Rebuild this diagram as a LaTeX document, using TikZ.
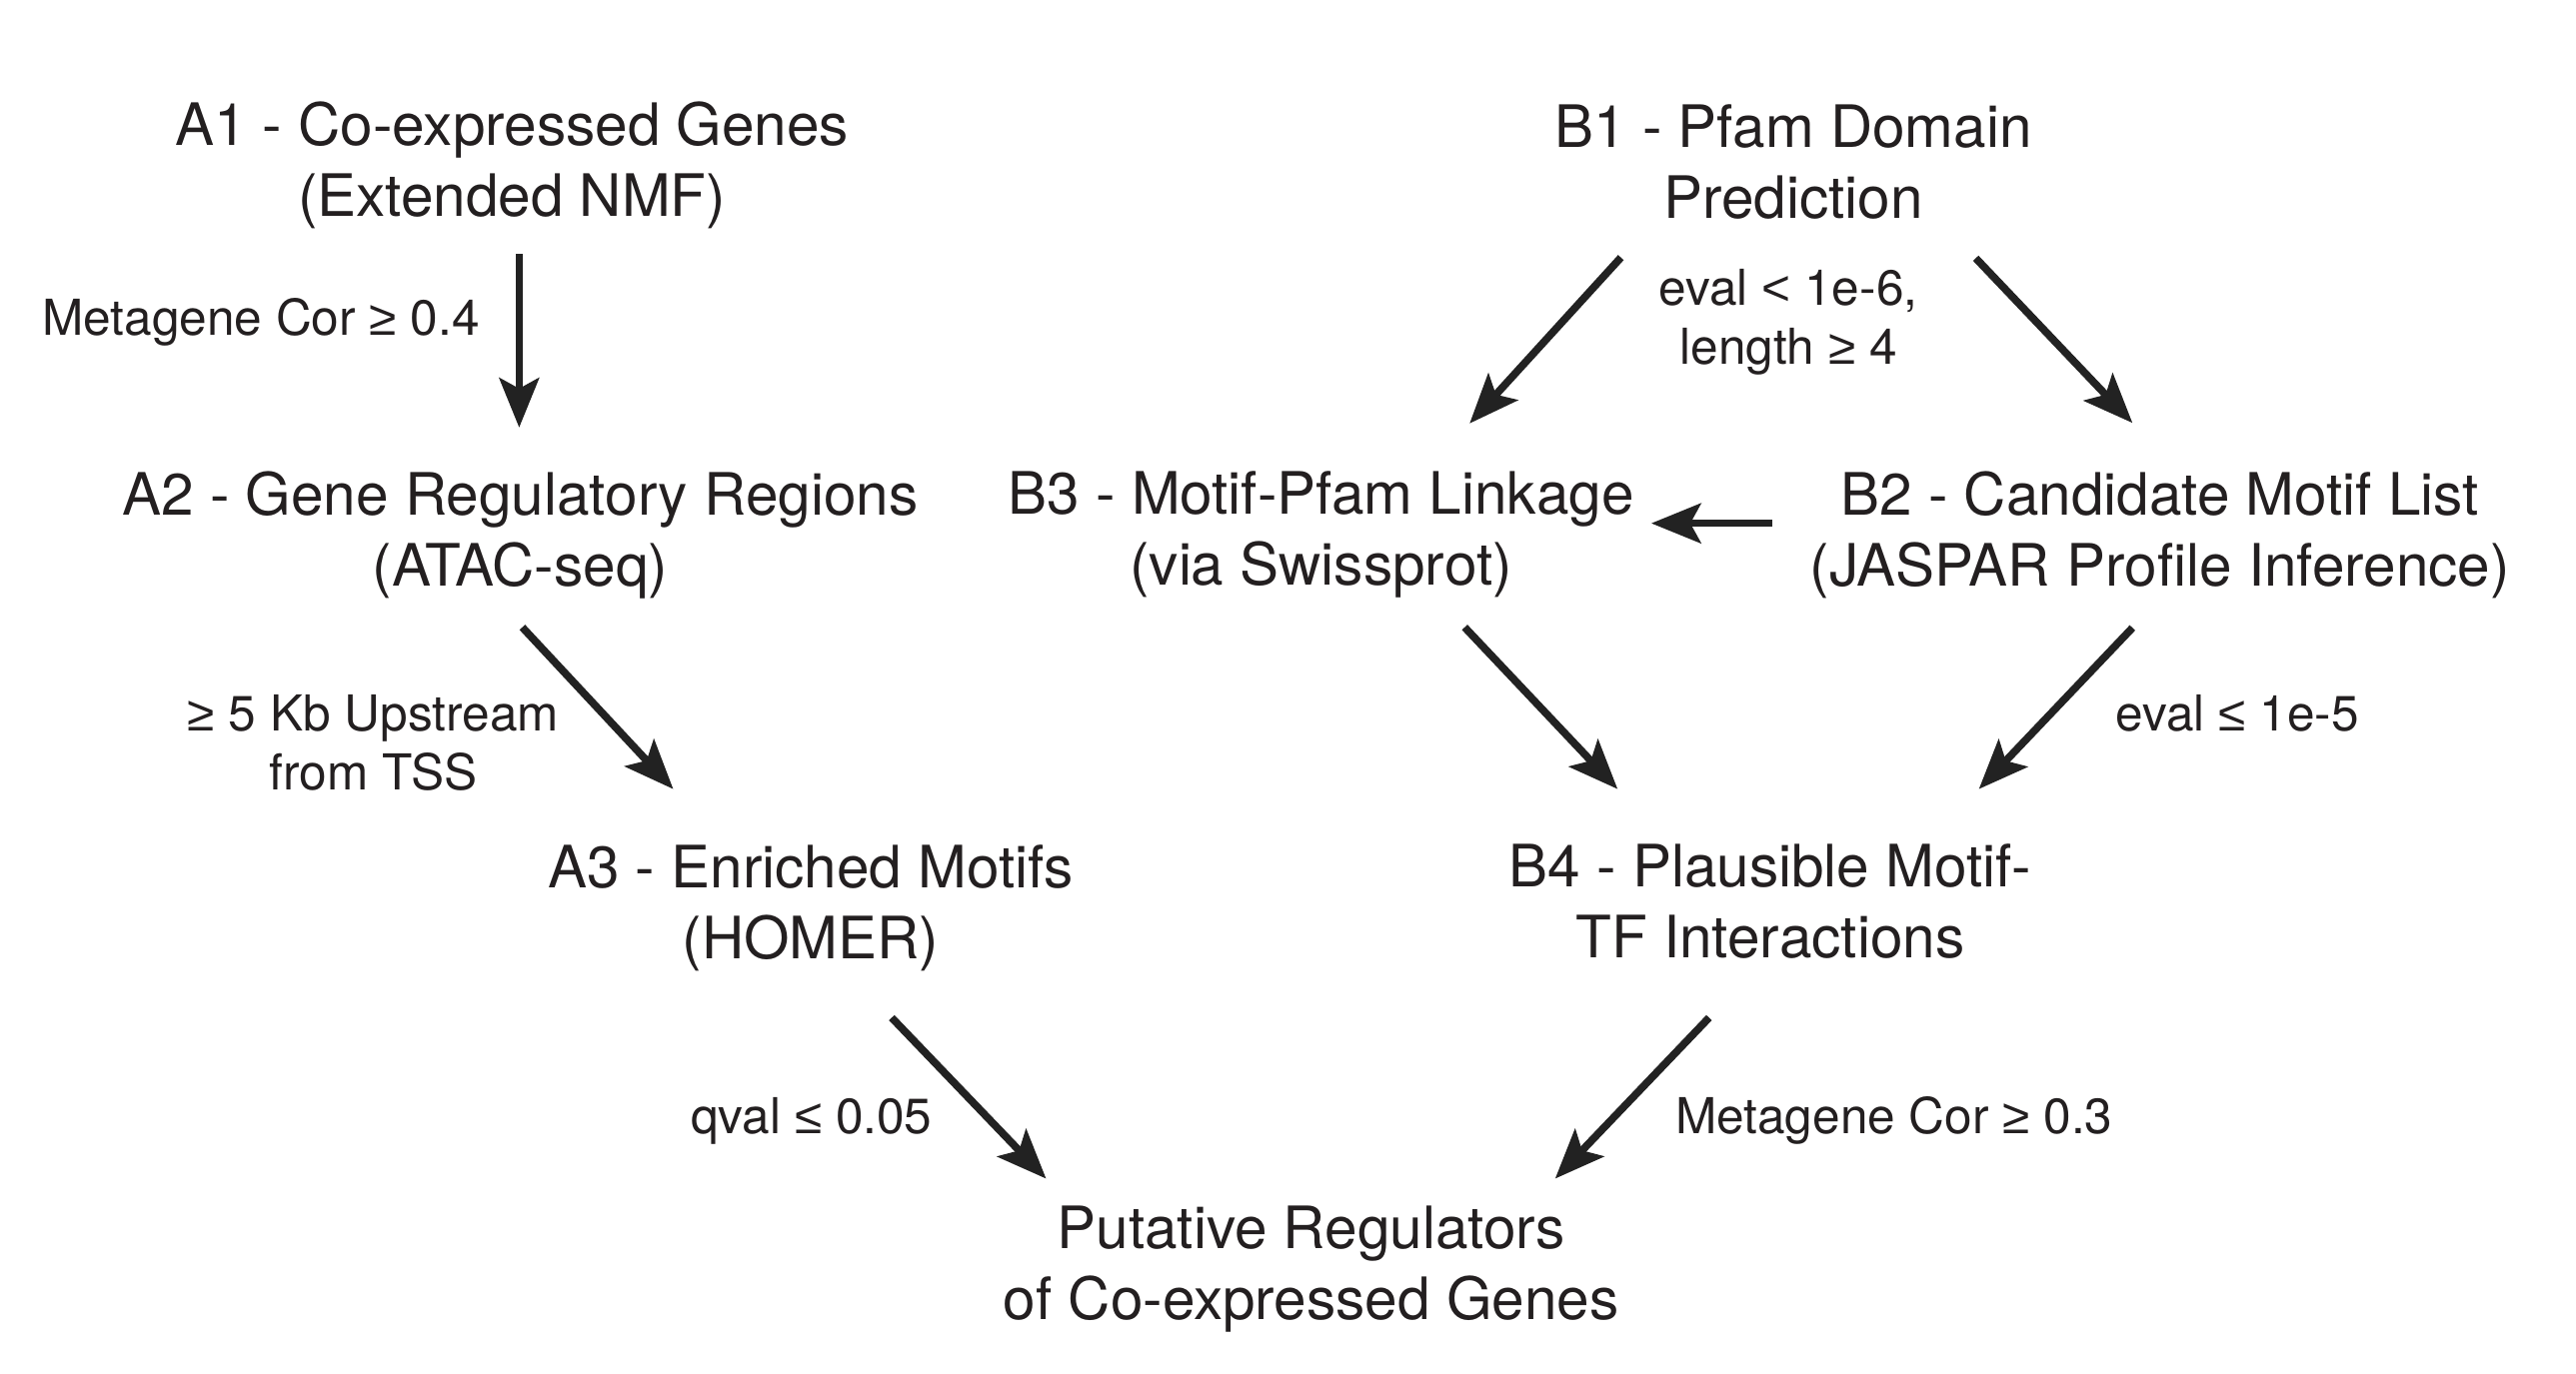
\documentclass[tikz,border=0pt]{standalone}
\usepackage{fontspec}
\setmainfont{TeX Gyre Heros}
\newfontfamily\relfont{Liberation Sans}
\usepackage[dvipsnames]{xcolor}
\definecolor{text_gray}{RGB}{35,31,32}
\definecolor{arrow_black}{RGB}{34,34,34}
\usepackage{tikz}
\usetikzlibrary{positioning, calc, arrows.meta}
\tikzstyle{stage} = [
    align=center, inner sep=0pt, text=text_gray,
    font=\fontsize{17.7}{21.5}\selectfont,
]
\tikzstyle{cond} = [
    align=center, inner sep=0pt, text=text_gray,
    font=\fontsize{15}{18}\selectfont,
]
\tikzstyle{arrow} = [line width=2.3pt, -{Stealth[length=15pt, width=12pt, inset=3.2pt]}, arrow_black]

\begin{document}
\begin{tikzpicture}[x=0.5pt, y=-0.5pt]
    \useasboundingbox (0,0) rectangle (1560,832);

    % pipeline A nodes
    \node[stage] (a1_coexpr) at (310,100) {A1 - Co-expressed Genes\\(Extended NMF)};
    \node[stage] (a2_regions) at (315,324) {A2 - Gene Regulatory Regions\\(ATAC-seq)};
    \node[stage] (a3_motifs) at (491,550) {A3 - Enriched Motifs\\(HOMER)};

    % pipeline B nodes
    \node[stage] (b1_pfam) at (1086,98) {B1 - Pfam Domain\\Prediction};
    \node[stage] (b2_candidates) at (1308,324) {B2 - Candidate Motif List\\(JASPAR Profile Inference)};
    \node[stage] (b3_linkage) at (800,324) {B3 - Motif-Pfam Linkage\\(via Swissprot)};
    \node[stage] (b4_interactions) at (1072,546) {B4 - Plausible Motif-\\TF Interactions};

    % result node
    \node[stage] (regulators) at (794,769) {Putative Regulators\\of Co-expressed Genes};

    % condition labels
    \node[cond] (cond_a12) at (158,195) {Metagene Cor {\relfont ≥} 0.4};
    \node[cond] (cond_a23) at (226,450) {{\relfont ≥} 5 Kb Upstream\\from TSS};
    \node[cond] (cond_a3r) at (491.5,679) {qval {\relfont ≤} 0.05};
    \node[cond] (cond_b1) at (1083,195) {eval {\relfont <} 1e-6,\\length {\relfont ≥} 4};
    \node[cond] (cond_b24) at (1355,432) {eval {\relfont ≤} 1e-5};
    \node[cond] (cond_b4r) at (1147,679) {Metagene Cor {\relfont ≥} 0.3};

    % arrows in pipeline A
    \coordinate (anchor1) at ($(a1_coexpr)+(4.4,54)$);
    \coordinate (anchor2) at ($(a2_regions)+(-0.6,-65)$);
    \draw[arrow] (anchor1) to (anchor2);

    \coordinate (anchor3) at ($(a2_regions)+(1.3,56)$);
    \coordinate (anchor4) at ($(a3_motifs)+(-83.3,-72)$);
    \draw[arrow] (anchor3) to (anchor4);

    \coordinate (anchor5) at ($(a3_motifs)+(49,66.5)$);
    \coordinate (anchor6) at ($(regulators)+(-160.5,-55)$);
    \draw[arrow] (anchor5) to (anchor6);

    % arrows in pipeline B
    \coordinate (anchor7) at ($(b1_pfam)+(-104.4,58)$);
    \coordinate (anchor8) at ($(b3_linkage)+(90,-67.5)$);
    \draw[arrow] (anchor7) to (anchor8);

    \coordinate (anchor9) at ($(b1_pfam)+(110.5,58.4)$);
    \coordinate (anchor10) at ($(b2_candidates)+(-16.6,-67.8)$);
    \draw[arrow] (anchor9) to (anchor10);

    \coordinate (anchor11) at ($(b2_candidates)+(-235,-7)$);
    \coordinate (anchor12) at ($(b3_linkage)+(200,-7)$);
    \draw[arrow] (anchor11) to (anchor12);

    \coordinate (anchor13) at ($(b3_linkage)+(87,56)$);
    \coordinate (anchor14) at ($(b4_interactions)+(-92.4,-68)$);
    \draw[arrow] (anchor13) to (anchor14);

    \coordinate (anchor15) at ($(b2_candidates)+(-16.6,56.3)$);
    \coordinate (anchor16) at ($(b4_interactions)+(126.4,-68)$);
    \draw[arrow] (anchor15) to (anchor16);

    \coordinate (anchor17) at ($(b4_interactions)+(-37,70.5)$);
    \coordinate (anchor18) at ($(regulators)+(147.8,-55)$);
    \draw[arrow] (anchor17) to (anchor18);
\end{tikzpicture}
\end{document}
